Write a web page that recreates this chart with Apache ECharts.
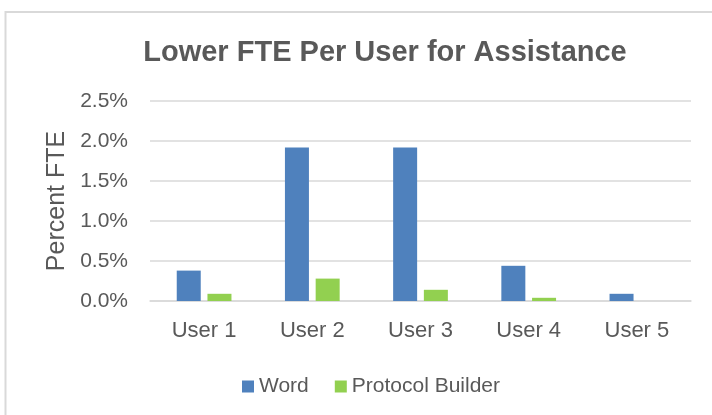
<!DOCTYPE html>
<html>
<head>
<meta charset="utf-8">
<script src="https://cdn.jsdelivr.net/npm/echarts@6/dist/echarts.min.js"></script>
<style>
    html, body { margin: 0; padding: 0; background: #fff; }
    #chart { width: 712px; height: 415px; }
</style>
</head>
<body>
<div id="chart"></div>
<script>
// data, values in percent
let users = ['User 1', 'User 2', 'User 3', 'User 4', 'User 5'];
let wordFte = [0.38, 1.92, 1.92, 0.44, 0.09];
let builderFte = [0.09, 0.28, 0.14, 0.04, 0];
let seriesNames = ['Word', 'Protocol Builder'];

let textColor = '#595959';
let gridColor = '#d9d9d9';
let fontName = '"Liberation Sans", Arial, Helvetica, sans-serif';

let chart = echarts.init(document.getElementById('chart'));
let option = {
    backgroundColor: '#fff',
    animation: false,
    textStyle: { fontFamily: fontName },
    graphic: [
        {
            // outer chart frame
            type: 'rect',
            shape: { x: 5.5, y: 12, width: 800, height: 500 },
            style: { fill: 'none', stroke: gridColor, lineWidth: 2 }
        }
    ],
    title: {
        text: 'Lower FTE Per User for Assistance',
        left: 380,
        top: 33,
        textAlign: 'center',
        textStyle: {
            color: textColor,
            fontSize: 29,
            fontWeight: 'bold',
            fontFamily: fontName
        }
    },
    legend: {
        data: seriesNames,
        left: 237,
        top: 371,
        itemWidth: 12,
        itemHeight: 12,
        itemGap: 26,
        icon: 'rect',
        textStyle: { color: textColor, fontSize: 21, fontFamily: fontName }
    },
    grid: {
        left: 150,
        right: 21,
        top: 101,
        bottom: 114
    },
    xAxis: {
        type: 'category',
        data: users,
        axisTick: { show: false },
        axisLine: { lineStyle: { color: gridColor, width: 1.5 } },
        axisLabel: { color: textColor, fontSize: 22, margin: 19, fontFamily: fontName }
    },
    yAxis: {
        type: 'value',
        min: 0,
        max: 2.5,
        interval: 0.5,
        name: 'Percent FTE',
        nameLocation: 'middle',
        nameGap: 80,
        nameTextStyle: { color: textColor, fontSize: 25, fontFamily: fontName },
        axisLine: { show: false },
        axisTick: { show: false },
        splitLine: { lineStyle: { color: gridColor, width: 1.5 } },
        axisLabel: {
            color: textColor,
            fontSize: 21,
            margin: 22,
            fontFamily: fontName,
            formatter: function (v) {
                return v.toFixed(1) + '%';
            }
        }
    },
    series: [
        {
            name: seriesNames[0],
            type: 'bar',
            data: wordFte,
            barWidth: 24,
            barGap: '28%',
            itemStyle: { color: '#4f81bd' }
        },
        {
            name: seriesNames[1],
            type: 'bar',
            data: builderFte,
            barWidth: 24,
            itemStyle: { color: '#92d050' }
        }
    ]
};
chart.setOption(option);
</script>
</body>
</html>
